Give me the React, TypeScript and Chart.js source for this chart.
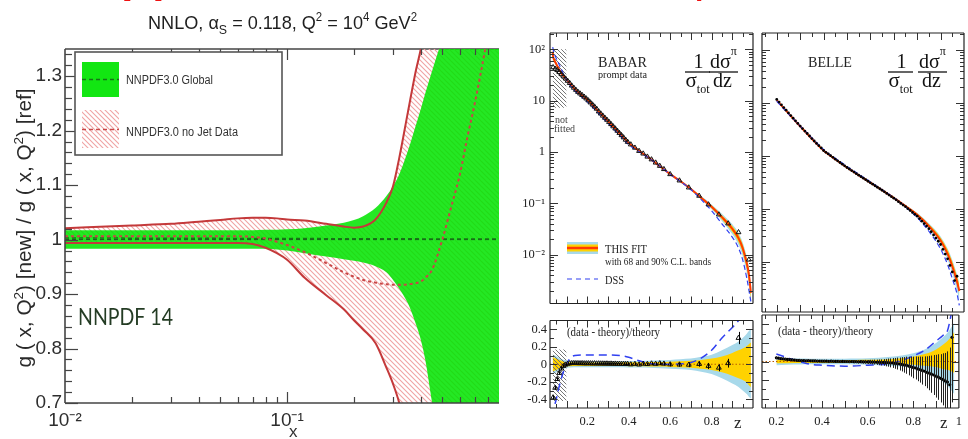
import React, { useEffect, useRef } from 'react';
import { Chart, registerables } from 'chart.js';

// ================= DATA =================
// ---- Left panel : NNPDF gluon ratio g[new]/g[ref] ----
const leftX = [0.01,0.02,0.03,0.04,0.05,0.06,0.07,0.08,0.09,0.1,0.12,0.15,0.18,0.2,0.22,0.25,0.28,0.3,0.32,0.35,0.38,0.4,0.42,0.45,0.5,0.55,0.6,0.65,0.7,0.78,0.9];
const globalUpper = [1.017,1.017,1.017,1.017,1.017,1.017,1.017,1.018,1.018,1.019,1.021,1.026,1.031,1.036,1.043,1.058,1.08,1.098,1.12,1.163,1.21,1.24,1.27,1.31,1.37,1.43,1.5,1.57,1.64,1.75,1.9];
const globalLower = [0.983,0.983,0.983,0.983,0.983,0.983,0.983,0.983,0.982,0.98,0.975,0.969,0.964,0.961,0.958,0.951,0.94,0.926,0.91,0.883,0.845,0.816,0.777,0.7,0.6,0.5,0.4,0.3,0.2,0.05,-0.15];
const noJetUpper = [1.021,1.026,1.029,1.033,1.036,1.039,1.04,1.04,1.039,1.037,1.035,1.029,1.024,1.022,1.024,1.037,1.068,1.098,1.15,1.234,1.31,1.35,1.4,1.48,1.6,1.7,1.8,1.9,2.0,2.1,2.3];
const noJetLower = [0.994,0.994,0.994,0.994,0.994,0.994,0.992,0.985,0.975,0.963,0.93,0.898,0.872,0.852,0.835,0.81,0.765,0.735,0.7,0.63,0.56,0.52,0.48,0.42,0.34,0.28,0.22,0.16,0.1,0.0,-0.1];
const noJetCentral = [1.006,1.006,1.006,1.006,1.006,1.006,1.005,1.002,0.996,0.99,0.977,0.957,0.94,0.932,0.926,0.921,0.918,0.917,0.917,0.918,0.92,0.923,0.93,0.945,1.0,1.062,1.12,1.19,1.25,1.35,1.5];
const leftRefX = [0.01, 0.9];
const globalCentral = [1.003, 1.001];
const unityLine = [1, 1];
const leftXTicks = [0.01, 0.1];
const leftXTickLabels = ['10\u207B\u00B2', '10\u207B\u00B9'];
const leftYTicks = [0.7, 0.8, 0.9, 1.0, 1.1, 1.2, 1.3];
const leftYTickLabels = ['0.7', '0.8', '0.9', '1', '1.1', '1.2', '1.3'];

// ---- BABAR ----
const babarFitZ = [0.033,0.035,0.04,0.045,0.05,0.06,0.07,0.08,0.09,0.1,0.12,0.15,0.2,0.25,0.3,0.35,0.4,0.45,0.5,0.55,0.6,0.65,0.7,0.75,0.8,0.85,0.9,0.93,0.95,0.97,0.98,0.99];
const babarFit = [90,72,63,57,52,43,37,32,28.5,25.5,20.5,15.2,10.5,6.4,4.0,2.45,1.5,1.05,0.76,0.53,0.37,0.27,0.19,0.128,0.086,0.054,0.032,0.021,0.0135,0.0068,0.0042,0.0018];
const babar68Up = [0.08,0.08,0.075,0.07,0.065,0.055,0.045,0.035,0.03,0.025,0.022,0.02,0.02,0.02,0.02,0.02,0.022,0.023,0.025,0.027,0.03,0.035,0.04,0.05,0.065,0.09,0.13,0.16,0.18,0.21,0.23,0.25];
const babar68Dn = [-0.08,-0.08,-0.075,-0.07,-0.065,-0.055,-0.045,-0.035,-0.03,-0.025,-0.022,-0.02,-0.02,-0.02,-0.02,-0.02,-0.022,-0.023,-0.025,-0.027,-0.03,-0.035,-0.04,-0.05,-0.065,-0.09,-0.13,-0.16,-0.18,-0.21,-0.24,-0.26];
const babar90Up = [0.11,0.11,0.105,0.1,0.095,0.08,0.065,0.055,0.048,0.042,0.038,0.035,0.035,0.035,0.035,0.035,0.037,0.038,0.04,0.045,0.05,0.058,0.065,0.085,0.11,0.16,0.22,0.26,0.3,0.35,0.38,0.4];
const babar90Dn = [-0.11,-0.11,-0.105,-0.1,-0.095,-0.08,-0.065,-0.055,-0.048,-0.042,-0.038,-0.035,-0.035,-0.035,-0.035,-0.035,-0.037,-0.038,-0.04,-0.045,-0.05,-0.058,-0.065,-0.085,-0.11,-0.16,-0.22,-0.26,-0.3,-0.34,-0.37,-0.39];
const babarDssZ = [0.033,0.04,0.05,0.067,0.09,0.114,0.14,0.2,0.3,0.36,0.4,0.45,0.5,0.6,0.7,0.75,0.8,0.85,0.9,0.93,0.95,0.97,0.99];
const babarDss = [110,84,67,48,30,20.8,15.5,9.5,3.62,2.05,1.39,1.01,0.75,0.37,0.186,0.118,0.072,0.04,0.022,0.0135,0.008,0.0035,0.0012];
const babarDssRatioZ = [0.033,0.04,0.05,0.067,0.09,0.114,0.14,0.2,0.3,0.36,0.4,0.45,0.5,0.55,0.6,0.65,0.7,0.75,0.8,0.85,0.9,0.93,0.95];
const babarDssRatio = [-0.6,-0.5,-0.4,-0.23,-0.05,0.06,0.1,0.105,0.105,0.1,0.08,0.04,0.01,0.0,0.0,0.005,0.02,0.07,0.16,0.3,0.42,0.5,0.58];
const babarZ = [0.035,0.045,0.055,0.065,0.075,0.085,0.095,0.105,0.115,0.125,0.135,0.145,0.155,0.165,0.175,0.185,0.195,0.205,0.215,0.225,0.235,0.245,0.255,0.265,0.275,0.285,0.295,0.305,0.315,0.325,0.335,0.345,0.355,0.365,0.375,0.385,0.395,0.41,0.43,0.45,0.47,0.49,0.51,0.53,0.55,0.57,0.6,0.645,0.69,0.74,0.785,0.835,0.88,0.93,0.98];
const babarData = [44.6,41.6,39.3,35.9,32.7,29.6,26.9,24.3,22.0,19.6,17.8,16.2,14.8,13.75,12.85,11.9,11.0,10.1,9.2,8.4,7.65,6.95,6.15,5.6,5.09,4.63,4.23,3.84,3.48,3.15,2.86,2.59,2.34,2.12,1.92,1.73,1.57,1.40,1.21,1.046,0.93,0.81,0.716,0.62,0.535,0.463,0.369,0.278,0.203,0.14,0.095,0.0605,0.0405,0.0273,0.008];
const babarRatio = [-0.38,-0.27,-0.17,-0.1,-0.05,-0.02,-0.005,0.005,0.01,0.012,0.013,0.012,0.012,0.011,0.012,0.01,0.01,0.011,0.01,0.009,0.01,0.008,0.009,0.008,0.008,0.007,0.008,0.006,0.007,0.005,0.006,0.004,0.005,0.003,0.004,0.002,0.003,-0.002,0.003,-0.004,0.005,0.002,0.008,0.004,0.01,0.006,-0.002,-0.004,-0.006,0.002,-0.02,-0.04,0.012,0.3,0.9];
const babarErr = [0.02,0.02,0.02,0.02,0.018,0.016,0.014,0.008,0.008,0.008,0.008,0.008,0.008,0.008,0.008,0.008,0.008,0.008,0.008,0.008,0.008,0.008,0.009,0.009,0.009,0.009,0.009,0.009,0.01,0.01,0.01,0.01,0.01,0.01,0.011,0.011,0.011,0.013,0.014,0.014,0.015,0.016,0.017,0.018,0.019,0.02,0.022,0.024,0.027,0.03,0.035,0.04,0.05,0.07,0.12];
const notFittedZ = [0.033, 0.1];
const notFittedTop = [100, 100];
const notFittedBottom = [7.3, 7.3];
const notFittedRatioTop = [0.17, 0.17];
const notFittedRatioBottom = [-0.42, -0.42];
const babarZeroZ = [0.02, 1.0];
const zeroLine = [0, 0];

// ---- BELLE ----
const belleFitZ = [0.2,0.25,0.3,0.35,0.4,0.45,0.5,0.55,0.6,0.65,0.7,0.75,0.8,0.85,0.9,0.93,0.95,0.97,0.98];
const belleFit = [11.2,6.3,3.6,2.1,1.25,0.86,0.6,0.43,0.31,0.225,0.16,0.112,0.077,0.047,0.025,0.014,0.0082,0.0042,0.0028];
const belle68Up = [0.02,0.018,0.015,0.015,0.015,0.015,0.015,0.016,0.018,0.02,0.025,0.035,0.05,0.08,0.13,0.18,0.22,0.28,0.32];
const belle68Dn = [-0.02,-0.018,-0.015,-0.015,-0.015,-0.015,-0.015,-0.016,-0.018,-0.02,-0.022,-0.028,-0.035,-0.045,-0.06,-0.08,-0.09,-0.11,-0.12];
const belle90Up = [0.04,0.035,0.032,0.03,0.03,0.03,0.03,0.032,0.035,0.04,0.05,0.065,0.09,0.13,0.2,0.26,0.31,0.38,0.42];
const belle90Dn = [-0.04,-0.035,-0.032,-0.03,-0.03,-0.03,-0.03,-0.032,-0.035,-0.04,-0.045,-0.055,-0.075,-0.11,-0.16,-0.22,-0.26,-0.32,-0.35];
const belleDssZ = [0.2,0.25,0.3,0.35,0.4,0.5,0.6,0.7,0.75,0.8,0.85,0.9,0.93,0.95,0.97,0.98];
const belleDss = [10.7,6.2,3.64,2.18,1.31,0.63,0.32,0.161,0.108,0.068,0.0375,0.0173,0.0088,0.0048,0.0025,0.0015];
const belleDssRatioZ = [0.2,0.25,0.3,0.35,0.4,0.5,0.6,0.7,0.75,0.8,0.85,0.9,0.93,0.95,0.97];
const belleDssRatio = [0.08,0.04,0.0,-0.03,-0.04,-0.05,-0.04,-0.02,0.01,0.06,0.12,0.22,0.28,0.33,0.55];
const belleZ = [0.2,0.21,0.22,0.23,0.24,0.25,0.26,0.27,0.28,0.29,0.3,0.31,0.32,0.33,0.34,0.35,0.36,0.37,0.38,0.39,0.4,0.41,0.42,0.43,0.44,0.45,0.46,0.47,0.48,0.49,0.5,0.51,0.52,0.53,0.54,0.55,0.56,0.57,0.58,0.59,0.6,0.61,0.62,0.63,0.64,0.65,0.66,0.67,0.68,0.69,0.7,0.71,0.72,0.73,0.74,0.75,0.76,0.77,0.78,0.79,0.8,0.81,0.82,0.83,0.84,0.85,0.86,0.87,0.88,0.89,0.9,0.91,0.92,0.93,0.94,0.95,0.96,0.97];
const belleData = [11.6,10.3,9.16,8.14,7.24,6.44,5.74,5.13,4.57,4.08,3.64,3.26,2.93,2.63,2.36,2.11,1.90,1.71,1.55,1.40,1.255,1.163,1.083,1.002,0.932,0.862,0.801,0.746,0.694,0.646,0.60,0.562,0.525,0.491,0.459,0.429,0.402,0.377,0.353,0.330,0.308,0.290,0.271,0.254,0.238,0.223,0.208,0.194,0.181,0.169,0.158,0.147,0.136,0.126,0.117,0.109,0.100,0.0924,0.0852,0.0784,0.0721,0.0648,0.0582,0.0523,0.0469,0.0420,0.0367,0.0320,0.0279,0.0243,0.0211,0.0171,0.0139,0.0113,0.0085,0.0064,0.0044,0.0053];
const belleRatio = [0.04,0.036,0.03,0.029,0.025,0.022,0.021,0.017,0.016,0.013,0.012,0.01,0.011,0.008,0.009,0.007,0.006,0.006,0.005,0.005,0.004,0.003,0.004,0.002,0.003,0.002,0.001,0.002,0.0,0.001,0.0,0.0,-0.001,0.0,-0.002,-0.001,-0.003,-0.002,-0.004,-0.003,-0.005,-0.004,-0.006,-0.006,-0.008,-0.008,-0.01,-0.01,-0.012,-0.012,-0.015,-0.016,-0.02,-0.022,-0.027,-0.03,-0.036,-0.04,-0.049,-0.055,-0.064,-0.07,-0.08,-0.087,-0.098,-0.105,-0.116,-0.124,-0.136,-0.145,-0.158,-0.167,-0.181,-0.192,-0.208,-0.221,-0.25,0.26];
const belleErr = [0.013,0.012,0.012,0.012,0.012,0.012,0.012,0.012,0.012,0.012,0.012,0.012,0.012,0.012,0.012,0.012,0.012,0.012,0.012,0.012,0.012,0.012,0.012,0.013,0.013,0.013,0.013,0.013,0.014,0.014,0.014,0.015,0.015,0.016,0.016,0.017,0.017,0.018,0.019,0.02,0.021,0.022,0.024,0.026,0.028,0.03,0.033,0.036,0.04,0.044,0.048,0.053,0.058,0.064,0.07,0.077,0.084,0.092,0.1,0.108,0.116,0.124,0.132,0.14,0.15,0.16,0.172,0.185,0.2,0.215,0.23,0.245,0.26,0.28,0.3,0.33,0.4,0.7];
const belleZeroZ = [0.137, 1.0];

// ---- tick labels ----
const logTicks = [0.01, 0.1, 1, 10, 100];
const logTickLabels = ['10\u207B\u00B2', '10\u207B\u00B9', '1', '10', '10\u00B2'];
const ratioTicks = [-0.4, -0.2, 0, 0.2, 0.4];
const ratioTickLabels = ['-0.4', '-0.2', '0', '0.2', '0.4'];
const babarZTicks = [0.2, 0.4, 0.6, 0.8];
const babarZTickLabels = ['0.2', '0.4', '0.6', '0.8'];
const belleZTicks = [0.2, 0.4, 0.6, 0.8, 1.0];
const belleZTickLabels = ['0.2', '0.4', '0.6', '0.8', '1'];

// ================= STYLE =================
const SANS = "'Liberation Sans', Arial, Helvetica, sans-serif";
const SERIF = "'Liberation Serif', 'Times New Roman', 'DejaVu Serif', serif";
const GREEN = '#12e612';
const GREEN_OVER = 'rgba(0,228,0,0.86)';
const RED = '#c4393a';
const YELLOW = '#ffd200';
const LBLUE = '#a8d9ea';
const FIT = '#ff3a00';
const DSSC = '#3040f0';

Chart.register(...registerables);

// ================= HELPERS =================
const pts = (xs: number[], ys: number[]) => xs.map((x, i) => ({ x, y: ys[i] }));
const scaleRel = (base: number[], rel: number[]) => base.map((v, i) => v * (1 + rel[i]));

function rng(from: number, to: number, step: number, exclude: number[] = []) {
  const out: number[] = [];
  const n = Math.round((to - from) / step);
  for (let i = 0; i <= n; i++) {
    const v = Math.round((from + i * step) * 1e6) / 1e6;
    if (!exclude.some((e) => Math.abs(e - v) < 1e-6)) out.push(v);
  }
  return out;
}
function logMinor(min: number, max: number) {
  const out: number[] = [];
  for (let e = -4; e <= 3; e++) for (let m = 2; m <= 9; m++) {
    const v = m * Math.pow(10, e);
    if (v > min && v < max) out.push(v);
  }
  return out;
}
function logMajorAll(min: number, max: number) {
  const out: number[] = [];
  for (let e = -4; e <= 3; e++) { const v = Math.pow(10, e); if (v > min && v < max) out.push(v); }
  return out;
}

function hatchPattern(color: string, size: number, lw: number) {
  const c = document.createElement('canvas');
  c.width = size; c.height = size;
  const g = c.getContext('2d')!;
  g.strokeStyle = color; g.lineWidth = lw;
  g.beginPath();
  g.moveTo(-1, -1); g.lineTo(size + 1, size + 1);
  g.moveTo(-1, size - 1); g.lineTo(1, size + 1);
  g.moveTo(size - 1, -1); g.lineTo(size + 1, 1);
  g.stroke();
  return g.createPattern(c, 'repeat')!;
}

function drawRich(ctx: CanvasRenderingContext2D, it: any) {
  ctx.save();
  ctx.fillStyle = it.color || '#222';
  ctx.textBaseline = 'alphabetic';
  ctx.textAlign = 'left';
  const fam = it.family || SANS;
  const wt = it.weight || 'normal';
  const st = it.style || 'normal';
  const fontOf = (p: any) => `${st} ${wt} ${p.size}px ${fam}`;
  const ws = it.parts.map((p: any) => { ctx.font = fontOf(p); return ctx.measureText(p.t).width; });
  const total = ws.reduce((s: number, w: number) => s + w, 0);
  const sx = it.fit ? it.fit / total : 1;
  ctx.translate(it.x, it.y);
  if (it.rotate) ctx.rotate(it.rotate);
  const w = total * sx;
  const start = it.align === 'center' ? -w / 2 : it.align === 'right' ? -w : 0;
  ctx.translate(start, 0);
  ctx.scale(sx, 1);
  let x = 0;
  it.parts.forEach((p: any, i: number) => { ctx.font = fontOf(p); ctx.fillText(p.t, x, p.dy || 0); x += ws[i]; });
  ctx.restore();
}

function decorPlugin(items: any[]) {
  return {
    id: 'decor',
    afterDraw(chart: any) {
      const ctx: CanvasRenderingContext2D = chart.ctx;
      for (const it of items) {
        if (it.kind === 'text') drawRich(ctx, it);
        else if (it.kind === 'line') {
          ctx.save();
          ctx.strokeStyle = it.color; ctx.lineWidth = it.width || 1;
          ctx.setLineDash(it.dash || []);
          ctx.beginPath(); ctx.moveTo(it.x1, it.y1); ctx.lineTo(it.x2, it.y2); ctx.stroke();
          ctx.restore();
        } else if (it.kind === 'rect') {
          ctx.save();
          const fills = Array.isArray(it.fill) ? it.fill : it.fill ? [it.fill] : [];
          fills.forEach((f: any) => { ctx.fillStyle = f; ctx.fillRect(it.x, it.y, it.w, it.h); });
          if (it.stroke) { ctx.strokeStyle = it.stroke; ctx.lineWidth = it.lw || 1; ctx.strokeRect(it.x, it.y, it.w, it.h); }
          ctx.restore();
        }
      }
    },
  };
}

function edge(ctx: CanvasRenderingContext2D, a: any, side: string) {
  ctx.beginPath();
  if (side === 'left') { ctx.moveTo(a.left, a.top); ctx.lineTo(a.left, a.bottom); }
  if (side === 'right') { ctx.moveTo(a.right, a.top); ctx.lineTo(a.right, a.bottom); }
  if (side === 'top') { ctx.moveTo(a.left, a.top); ctx.lineTo(a.right, a.top); }
  if (side === 'bottom') { ctx.moveTo(a.left, a.bottom); ctx.lineTo(a.right, a.bottom); }
  ctx.stroke();
}

function ticksPlugin(cfg: any) {
  return {
    id: 'ticksFrame',
    beforeDatasetsDraw(chart: any) {
      if (!cfg.frameBefore) return;
      const ctx = chart.ctx; ctx.save();
      ctx.strokeStyle = cfg.frameColor; ctx.lineWidth = cfg.frameWidth;
      cfg.frameBefore.forEach((s: string) => edge(ctx, chart.chartArea, s));
      ctx.restore();
    },
    afterDatasetsDraw(chart: any) {
      const ctx: CanvasRenderingContext2D = chart.ctx;
      const a = chart.chartArea;
      ctx.save();
      ctx.strokeStyle = cfg.tickColor; ctx.lineWidth = cfg.tickWidth;
      for (const it of cfg.items) {
        const sc = chart.scales[it.axis];
        for (const v of it.values) {
          const raw = sc.getPixelForValue(v);
          if (it.axis === 'x' && (raw < a.left - 0.5 || raw > a.right + 0.5)) continue;
          if (it.axis === 'y' && (raw < a.top - 0.5 || raw > a.bottom + 0.5)) continue;
          const p = Math.round(raw) + 0.5;
          ctx.beginPath();
          for (const s of it.sides) {
            if (s === 'left') { ctx.moveTo(a.left, p); ctx.lineTo(a.left + it.len, p); }
            if (s === 'right') { ctx.moveTo(a.right, p); ctx.lineTo(a.right - it.len, p); }
            if (s === 'top') { ctx.moveTo(p, a.top); ctx.lineTo(p, a.top + it.len); }
            if (s === 'bottom') { ctx.moveTo(p, a.bottom); ctx.lineTo(p, a.bottom - it.len); }
          }
          ctx.stroke();
        }
      }
      ctx.strokeStyle = cfg.frameColor; ctx.lineWidth = cfg.frameWidth;
      (cfg.frame || []).forEach((s: string) => edge(ctx, a, s));
      ctx.restore();
    },
  };
}

const errorBarsPlugin = {
  id: 'errorBars',
  afterDatasetsDraw(chart: any) {
    const ctx: CanvasRenderingContext2D = chart.ctx;
    const a = chart.chartArea;
    const ys = chart.scales.y;
    chart.data.datasets.forEach((d: any, i: number) => {
      if (!d.errs) return;
      const meta = chart.getDatasetMeta(i);
      ctx.save();
      ctx.beginPath(); ctx.rect(a.left, a.top, a.right - a.left, a.bottom - a.top); ctx.clip();
      ctx.strokeStyle = d.errColor || '#000'; ctx.lineWidth = 1;
      meta.data.forEach((el: any, j: number) => {
        const v = d.data[j].y; const e = d.errs[j];
        const x = Math.round(el.x) + 0.5;
        ctx.beginPath(); ctx.moveTo(x, ys.getPixelForValue(v + e)); ctx.lineTo(x, ys.getPixelForValue(v - e)); ctx.stroke();
      });
      ctx.restore();
    });
  },
};

function line(data: any[], o: any = {}) {
  return {
    data, pointRadius: 0, borderWidth: 0, borderColor: 'rgba(0,0,0,0)', backgroundColor: 'rgba(0,0,0,0)',
    fill: false, cubicInterpolationMode: 'monotone', ...o,
  };
}

function baseOptions(padding: any, scales: any) {
  return {
    animation: false, responsive: false, devicePixelRatio: 1, events: [],
    layout: { padding },
    plugins: { legend: { display: false }, tooltip: { enabled: false }, title: { display: false } },
    scales,
  };
}

const noGrid = { grid: { display: false, drawTicks: false }, border: { display: false } };

// ================= CHART CONFIGS =================
function leftConfig(hatch: CanvasPattern) {
  const datasets = [
    // hatched no-jet band (behind), then translucent green global band on top
    line(pts(leftX, noJetUpper), { fill: 1, backgroundColor: hatch, order: 22, label: 'NNPDF3.0 no Jet Data' }),
    line(pts(leftX, noJetLower), { order: 21 }),
    line(pts(leftX, globalUpper), { fill: 3, backgroundColor: GREEN_OVER, order: 20, label: 'NNPDF3.0 Global' }),
    line(pts(leftX, globalLower), { order: 19 }),
    line(pts(leftRefX, unityLine), { borderColor: 'rgba(30,30,30,0.75)', borderWidth: 1, borderDash: [4, 3], order: 10, cubicInterpolationMode: 'default' }),
    line(pts(leftRefX, globalCentral), { borderColor: '#177317', borderWidth: 1.5, borderDash: [4, 3], order: 9, cubicInterpolationMode: 'default' }),
    line(pts(leftX, noJetUpper), { borderColor: RED, borderWidth: 2, order: 8 }),
    line(pts(leftX, noJetLower), { borderColor: RED, borderWidth: 2, order: 7 }),
    line(pts(leftX, noJetCentral), { borderColor: '#c84646', borderWidth: 2, borderDash: [3, 3], order: 6 }),
  ];
  const yMinor = rng(0.72, 1.34, 0.02, leftYTicks);
  const xMinor = [0.02, 0.03, 0.04, 0.05, 0.06, 0.07, 0.08, 0.09, 0.2, 0.3, 0.4, 0.5, 0.6, 0.7, 0.8];
  const options = baseOptions({ top: 49, right: 21, left: 0, bottom: 0 }, {
    x: {
      type: 'logarithmic', min: 0.01, max: 0.9, ...noGrid,
      afterFit: (s: any) => { s.height = 36; },
      afterBuildTicks: (s: any) => { s.ticks = leftXTicks.map((v) => ({ value: v })); },
      ticks: { autoSkip: false, maxRotation: 0, padding: 6, color: '#2e2e2e', font: { family: SANS, size: 19 },
        callback: (_v: any, i: number) => leftXTickLabels[i] },
    },
    y: {
      type: 'linear', min: 0.7, max: 1.35, ...noGrid,
      afterFit: (s: any) => { s.width = 65; },
      afterBuildTicks: (s: any) => { s.ticks = leftYTicks.map((v) => ({ value: v })); },
      ticks: { autoSkip: false, padding: 3, color: '#2e2e2e', font: { family: SANS, size: 19 },
        callback: (_v: any, i: number) => leftYTickLabels[i] },
    },
  });
  const ticks = ticksPlugin({
    tickColor: '#444', tickWidth: 1.2, frameColor: '#444', frameWidth: 1.6,
    frameBefore: ['top'], frame: ['left', 'bottom'],
    items: [
      { axis: 'y', sides: ['left'], values: leftYTicks, len: 13 },
      { axis: 'y', sides: ['left'], values: yMinor, len: 7 },
      { axis: 'x', sides: ['top', 'bottom'], values: [0.1], len: 11 },
      { axis: 'x', sides: ['top', 'bottom'], values: xMinor, len: 6 },
    ],
  });
  const decor = decorPlugin([
    { kind: 'text', parts: [{ t: '(a)', size: 44 }], x: 116, y: -8, color: '#ee1111', weight: 'bold' },
    { kind: 'text', x: 282.5, y: 29, align: 'center', fit: 269, color: '#1e1e1e',
      parts: [{ t: 'NNLO, \u03B1', size: 19 }, { t: 'S', size: 13, dy: 5 }, { t: ' = 0.118, Q', size: 19 }, { t: '2', size: 12, dy: -8 },
        { t: ' = 10', size: 19 }, { t: '4', size: 12, dy: -8 }, { t: ' GeV', size: 19 }, { t: '2', size: 12, dy: -8 }] },
    { kind: 'text', x: 31, y: 228, align: 'center', fit: 279, rotate: -Math.PI / 2, color: '#2a2a2a',
      parts: [{ t: 'g ( x, Q', size: 20 }, { t: '2', size: 13, dy: -8 }, { t: ') [new] / g ( x, Q', size: 20 }, { t: '2', size: 13, dy: -8 }, { t: ') [ref]', size: 20 }] },
    { kind: 'text', parts: [{ t: 'x', size: 17 }], x: 289, y: 437, color: '#333' },
    { kind: 'text', parts: [{ t: 'NNPDF 14', size: 24 }], x: 78, y: 325, fit: 95, color: '#243c24', family: "Lato, 'Open Sans', sans-serif" },
    { kind: 'rect', x: 75, y: 52, w: 207, h: 103, fill: '#ffffff', stroke: '#555', lw: 1.6 },
    { kind: 'rect', x: 82, y: 62, w: 37, h: 35, fill: GREEN },
    { kind: 'line', x1: 82, y1: 79.5, x2: 119, y2: 79.5, color: '#177317', width: 1.3, dash: [4, 3] },
    { kind: 'rect', x: 82, y: 110, w: 37, h: 38, fill: hatch },
    { kind: 'line', x1: 82, y1: 129.5, x2: 119, y2: 129.5, color: '#c84848', width: 1.5, dash: [4, 3] },
    { kind: 'text', parts: [{ t: 'NNPDF3.0 Global', size: 12.5 }], x: 126, y: 84, fit: 87, color: '#333' },
    { kind: 'text', parts: [{ t: 'NNPDF3.0 no Jet Data', size: 12.5 }], x: 126, y: 136, fit: 112, color: '#333' },
  ]);
  return { type: 'line', data: { datasets }, options, plugins: [ticks, decor] };
}

const LOG_MIN = 0.00112, LOG_MAX = 208;
const zMajor = rng(0.1, 0.9, 0.1);
const zMinor = rng(0.05, 0.95, 0.1);

function upperTicks() {
  return ticksPlugin({
    tickColor: '#333', tickWidth: 1, frameColor: '#222', frameWidth: 1.2,
    frame: ['left', 'right', 'top', 'bottom'],
    items: [
      { axis: 'y', sides: ['left', 'right'], values: logMajorAll(LOG_MIN, LOG_MAX), len: 8 },
      { axis: 'y', sides: ['left', 'right'], values: logMinor(LOG_MIN, LOG_MAX), len: 4 },
      { axis: 'x', sides: ['top', 'bottom'], values: zMajor, len: 7 },
      { axis: 'x', sides: ['top', 'bottom'], values: zMinor, len: 4 },
    ],
  });
}
function lowerTicks() {
  return ticksPlugin({
    tickColor: '#333', tickWidth: 1, frameColor: '#222', frameWidth: 1.2,
    frame: ['left', 'right', 'top', 'bottom'],
    items: [
      { axis: 'y', sides: ['left', 'right'], values: ratioTicks, len: 7 },
      { axis: 'y', sides: ['left', 'right'], values: [-0.3, -0.1, 0.1, 0.3], len: 4 },
      { axis: 'x', sides: ['top', 'bottom'], values: zMajor, len: 7 },
      { axis: 'x', sides: ['top', 'bottom'], values: zMinor, len: 4 },
    ],
  });
}

function fraction(x0: number) {
  return [
    { kind: 'text', parts: [{ t: '1', size: 20 }], x: x0 + 13.5, y: 68, align: 'center', family: SERIF, color: '#111' },
    { kind: 'line', x1: x0, y1: 72, x2: x0 + 25, y2: 72, color: '#111', width: 1.3 },
    { kind: 'text', parts: [{ t: '\u03C3', size: 21 }, { t: 'tot', size: 12, dy: 6 }], x: x0 + 0.5, y: 87, family: SERIF, color: '#111' },
  ];
}
function fraction2(x0: number) {
  return [
    { kind: 'text', parts: [{ t: 'd\u03C3', size: 20 }, { t: '\u03C0', size: 12, dy: -13 }], x: x0 + 1, y: 68, family: SERIF, color: '#111' },
    { kind: 'line', x1: x0, y1: 72, x2: x0 + 29, y2: 72, color: '#111', width: 1.3 },
    { kind: 'text', parts: [{ t: 'dz', size: 20 }], x: x0 + 4, y: 87, family: SERIF, color: '#111' },
  ];
}

function upperDatasets(fz: number[], fit: number[], u68: number[], d68: number[], u90: number[], d90: number[], dz: number[], dss: number[]) {
  return [
    line(pts(fz, scaleRel(fit, u90)), { fill: { target: '+1' }, backgroundColor: LBLUE, order: 28 }),
    line(pts(fz, scaleRel(fit, d90)), { order: 27 }),
    line(pts(fz, scaleRel(fit, u68)), { fill: { target: '+1' }, backgroundColor: YELLOW, order: 26 }),
    line(pts(fz, scaleRel(fit, d68)), { order: 25 }),
    line(pts(fz, fit), { borderColor: FIT, borderWidth: 2, order: 20 }),
    line(pts(dz, dss), { borderColor: DSSC, borderWidth: 1.2, borderDash: [5, 3], order: 15 }),
  ];
}
function lowerDatasets(fz: number[], u68: number[], d68: number[], u90: number[], d90: number[], zeroZ: number[], dz: number[], dr: number[]) {
  return [
    line(pts(fz, u90), { fill: { target: '+1' }, backgroundColor: LBLUE, order: 30 }),
    line(pts(fz, d90), { order: 29 }),
    line(pts(fz, u68), { fill: { target: '+1' }, backgroundColor: YELLOW, order: 28 }),
    line(pts(fz, d68), { order: 27 }),
    line(pts(zeroZ, zeroLine), { borderColor: '#b85a00', borderWidth: 1, borderDash: [1.5, 2], order: 22, cubicInterpolationMode: 'default' }),
    line(pts(dz, dr), { borderColor: DSSC, borderWidth: 1.5, borderDash: [8, 5], order: 15 }),
  ];
}

function babarUpperConfig(grayHatch: CanvasPattern) {
  const datasets: any[] = [
    line(pts(notFittedZ, notFittedTop), { fill: { target: '+1' }, backgroundColor: grayHatch, order: 40, cubicInterpolationMode: 'default' }),
    line(pts(notFittedZ, notFittedBottom), { order: 39, cubicInterpolationMode: 'default' }),
    ...upperDatasets(babarFitZ, babarFit, babar68Up, babar68Dn, babar90Up, babar90Dn, babarDssZ, babarDss),
    line(pts(babarZ, babarData), { showLine: false, pointRadius: 2.8, pointStyle: 'triangle', pointBorderColor: '#111', pointBackgroundColor: 'rgba(0,0,0,0)', pointBorderWidth: 1, order: 5 }),
  ];
  const options = baseOptions({ top: 33, right: 2, left: 0, bottom: 1 }, {
    x: { type: 'linear', min: 0.02, max: 1.0, display: false },
    y: {
      type: 'logarithmic', min: LOG_MIN, max: LOG_MAX, ...noGrid,
      afterFit: (s: any) => { s.width = 30; },
      afterBuildTicks: (s: any) => { s.ticks = logTicks.map((v) => ({ value: v })); },
      ticks: { autoSkip: false, padding: 5, color: '#222', font: { family: SERIF, size: 12.5 }, callback: (_v: any, i: number) => logTickLabels[i] },
    },
  });
  const decor = decorPlugin([
    { kind: 'text', parts: [{ t: 'p', size: 30 }], x: 175, y: -5, color: '#ee1111', weight: 'bold' },
    { kind: 'text', parts: [{ t: 'BABAR', size: 15 }], x: 78, y: 67, fit: 49, family: SERIF, color: '#222' },
    { kind: 'text', parts: [{ t: 'prompt data', size: 10.5 }], x: 78, y: 77.5, fit: 49, family: SERIF, color: '#222' },
    ...fraction(165),
    ...fraction2(189),
    { kind: 'text', parts: [{ t: 'not', size: 10 }], x: 35, y: 123, family: SERIF, color: '#444' },
    { kind: 'text', parts: [{ t: 'fitted', size: 10 }], x: 34, y: 131.5, family: SERIF, color: '#444' },
    { kind: 'rect', x: 47, y: 242, w: 31, h: 12, fill: LBLUE },
    { kind: 'rect', x: 47, y: 244.5, w: 31, h: 7, fill: YELLOW },
    { kind: 'line', x1: 47, y1: 248, x2: 78, y2: 248, color: FIT, width: 2.5 },
    { kind: 'text', parts: [{ t: 'THIS FIT', size: 13 }], x: 85, y: 253, fit: 42, family: SERIF, color: '#222' },
    { kind: 'text', parts: [{ t: 'with 68 and 90% C.L. bands', size: 9.5 }], x: 85, y: 264.5, fit: 106, family: SERIF, color: '#222' },
    { kind: 'line', x1: 47, y1: 279, x2: 78, y2: 279, color: DSSC, width: 1.2, dash: [5, 4] },
    { kind: 'text', parts: [{ t: 'DSS', size: 13 }], x: 85, y: 284, fit: 19, family: SERIF, color: '#222' },
  ]);
  return { type: 'line', data: { datasets }, options, plugins: [upperTicks(), decor] };
}

function babarLowerConfig(grayHatch: CanvasPattern) {
  const datasets: any[] = [
    ...lowerDatasets(babarFitZ, babar68Up, babar68Dn, babar90Up, babar90Dn, babarZeroZ, babarDssRatioZ, babarDssRatio),
    line(pts(notFittedZ, notFittedRatioTop), { fill: { target: '+1' }, backgroundColor: grayHatch, order: 20, cubicInterpolationMode: 'default' }),
    line(pts(notFittedZ, notFittedRatioBottom), { order: 19, cubicInterpolationMode: 'default' }),
    { ...line(pts(babarZ, babarRatio), { showLine: false, pointRadius: 2.8, pointStyle: 'triangle', pointBorderColor: '#111', pointBackgroundColor: 'rgba(0,0,0,0)', pointBorderWidth: 1, order: 5 }), errs: babarErr },
  ];
  const options = baseOptions({ top: 5, right: 2, left: 0, bottom: 0 }, {
    x: {
      type: 'linear', min: 0.02, max: 1.0, ...noGrid,
      afterFit: (s: any) => { s.height = 31; },
      afterBuildTicks: (s: any) => { s.ticks = babarZTicks.map((v) => ({ value: v })); },
      ticks: { autoSkip: false, maxRotation: 0, padding: 6, color: '#222', font: { family: SERIF, size: 12.5 }, callback: (_v: any, i: number) => babarZTickLabels[i] },
    },
    y: {
      type: 'linear', min: -0.5, max: 0.5, ...noGrid,
      afterFit: (s: any) => { s.width = 30; },
      afterBuildTicks: (s: any) => { s.ticks = ratioTicks.map((v) => ({ value: v })); },
      ticks: { autoSkip: false, padding: 3, color: '#222', font: { family: SERIF, size: 12.5 }, callback: (_v: any, i: number) => ratioTickLabels[i] },
    },
  });
  const decor = decorPlugin([
    { kind: 'text', parts: [{ t: '(data - theory)/theory', size: 12.5 }], x: 47, y: 26, fit: 93, family: SERIF, color: '#222' },
    { kind: 'text', parts: [{ t: 'z', size: 17 }], x: 214, y: 118, family: SERIF, color: '#222' },
  ]);
  return { type: 'line', data: { datasets }, options, plugins: [lowerTicks(), errorBarsPlugin, decor] };
}

function belleUpperConfig() {
  const datasets: any[] = [
    ...upperDatasets(belleFitZ, belleFit, belle68Up, belle68Dn, belle90Up, belle90Dn, belleDssZ, belleDss),
    line(pts(belleZ, belleData), { showLine: false, pointRadius: 1.4, pointStyle: 'circle', pointBorderColor: '#000', pointBackgroundColor: '#000', pointBorderWidth: 0, order: 5 }),
  ];
  const options = baseOptions({ top: 33, right: 4, left: 1, bottom: 1 }, {
    x: { type: 'linear', min: 0.137, max: 1.0, display: false },
    y: { type: 'logarithmic', min: LOG_MIN, max: LOG_MAX, display: false },
  });
  const decor = decorPlugin([
    { kind: 'text', parts: [{ t: 'BELLE', size: 15 }], x: 50, y: 67, fit: 44, family: SERIF, color: '#222' },
    ...fraction(130),
    ...fraction2(160),
  ]);
  return { type: 'line', data: { datasets }, options, plugins: [upperTicks(), decor] };
}

function belleLowerConfig() {
  const datasets: any[] = [
    ...lowerDatasets(belleFitZ, belle68Up, belle68Dn, belle90Up, belle90Dn, belleZeroZ, belleDssRatioZ, belleDssRatio),
    { ...line(pts(belleZ, belleRatio), { showLine: false, pointRadius: 1.6, pointStyle: 'circle', pointBorderColor: '#000', pointBackgroundColor: '#000', pointBorderWidth: 0, order: 5 }), errs: belleErr, errColor: '#222' },
  ];
  const options = baseOptions({ top: 5, right: 4, left: 1, bottom: 0 }, {
    x: {
      type: 'linear', min: 0.137, max: 1.0, ...noGrid,
      afterFit: (s: any) => { s.height = 31; },
      afterBuildTicks: (s: any) => { s.ticks = belleZTicks.map((v) => ({ value: v })); },
      ticks: { autoSkip: false, maxRotation: 0, padding: 6, color: '#222', font: { family: SERIF, size: 12.5 }, callback: (_v: any, i: number) => belleZTickLabels[i] },
    },
    y: { type: 'linear', min: -0.5, max: 0.5, display: false },
  });
  const decor = decorPlugin([
    { kind: 'text', parts: [{ t: '(data - theory)/theory', size: 12.5 }], x: 20, y: 25, fit: 95, family: SERIF, color: '#222' },
    { kind: 'text', parts: [{ t: 'z', size: 17 }], x: 182, y: 118, family: SERIF, color: '#222' },
  ]);
  return { type: 'line', data: { datasets }, options, plugins: [lowerTicks(), errorBarsPlugin, decor] };
}

// ================= COMPONENT =================
const canvases = [
  { key: 'left', left: 0, top: 0, w: 520, h: 439 },
  { key: 'babarUp', left: 520, top: 0, w: 238, h: 316 },
  { key: 'belleUp', left: 758, top: 0, w: 210, h: 316 },
  { key: 'babarLo', left: 520, top: 310, w: 238, h: 129 },
  { key: 'belleLo', left: 758, top: 310, w: 210, h: 129 },
];

export default function App() {
  const refs = useRef<(HTMLCanvasElement | null)[]>([]);
  useEffect(() => {
    const pink = hatchPattern('#f0a4a4', 5, 1.1);
    const gray = hatchPattern('#666666', 4, 0.9);
    const cfgs: any[] = [leftConfig(pink), babarUpperConfig(gray), belleUpperConfig(), babarLowerConfig(gray), belleLowerConfig()];
    const charts = cfgs.map((c, i) => new Chart(refs.current[i] as HTMLCanvasElement, c));
    return () => charts.forEach((c) => c.destroy());
  }, []);
  return (
    <div style={{ position: 'fixed', left: 0, top: 0, width: 968, height: 439, background: '#ffffff', overflow: 'hidden' }}>
      {canvases.map((c, i) => (
        <canvas
          key={c.key}
          ref={(el) => { refs.current[i] = el; }}
          width={c.w}
          height={c.h}
          style={{ position: 'absolute', left: c.left, top: c.top, width: c.w, height: c.h }}
        />
      ))}
    </div>
  );
}
